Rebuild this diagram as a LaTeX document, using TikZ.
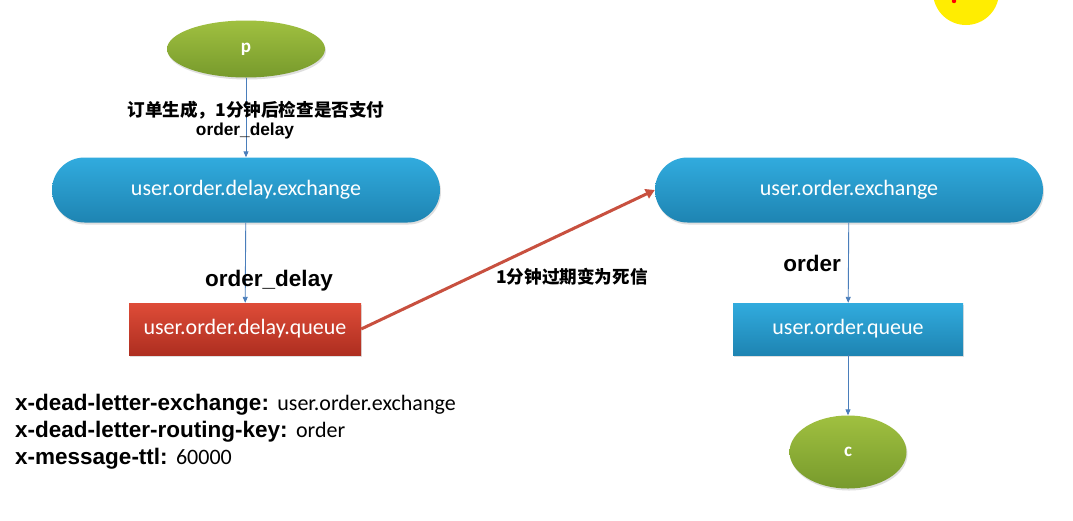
\documentclass[tikz,border=0pt]{standalone}
\usepackage{fontspec}
\setmainfont{Liberation Sans}
\newfontfamily\nodefnt{Carlito}
\newfontfamily\cjkfnt{Noto Sans CJK SC}
\usetikzlibrary{arrows.meta,shapes.geometric,shapes.misc,shadows}
\definecolor{grtop}{HTML}{A0C040}
\definecolor{grbot}{HTML}{779A2C}
\definecolor{bltop}{HTML}{31ABDE}
\definecolor{blbot}{HTML}{1E84B2}
\definecolor{rdtop}{HTML}{DE4C38}
\definecolor{rdbot}{HTML}{AE2E20}
\definecolor{lnblue}{HTML}{4A7EBB}
\definecolor{lnred}{HTML}{C8503F}
\tikzset{
  greenell/.style={ellipse, top color=grtop, bottom color=grbot, draw=none,
    text=white, font=\nodefnt\bfseries\fontsize{19}{22}\selectfont, inner sep=0pt,
    drop shadow={shadow xshift=1pt, shadow yshift=-2pt, opacity=0.25}},
  exch/.style={rounded rectangle, top color=bltop, bottom color=blbot, draw=none,
    text=white, font=\nodefnt\fontsize{22}{26}\selectfont, inner sep=0pt,
    drop shadow={shadow xshift=1pt, shadow yshift=-2pt, opacity=0.25}},
  qbox/.style={rectangle, draw=none, text=white, font=\nodefnt\fontsize{22}{26}\selectfont, inner sep=0pt,
    drop shadow={shadow xshift=1pt, shadow yshift=-2pt, opacity=0.25}},
  flow/.style={draw=lnblue, line width=0.9pt, -{Triangle[length=6pt,width=5pt]}},
  deadflow/.style={draw=lnred, line width=3pt, -{Triangle[length=9pt,width=10pt]}},
  lbl/.style={font=\bfseries\fontsize{22.5}{26}\selectfont, inner sep=0pt},
  cjklbl/.style={font=\cjkfnt\bfseries\fontsize{17.6}{21}\selectfont, inner sep=0pt},
  prop/.style={anchor=west, inner sep=0pt, font=\fontsize{22.5}{26}\selectfont}
}
\begin{document}
\begin{tikzpicture}[x=1pt,y=-1pt]
\useasboundingbox (0,0) rectangle (1073,520);
\fill[white] (0,0) rectangle (1073,520);
% cursor highlight
\fill[yellow!95!orange] (966,-8) circle (33);
\fill[red] (954,1) circle (2.2);

\node[greenell, minimum width=158, minimum height=57] (p) at (246,49) {p};
\node[exch, minimum width=388, minimum height=65] (dx) at (246,190) {user.order.delay.exchange};
\node[qbox, top color=rdtop, bottom color=rdbot, minimum width=232, minimum height=52] (dq) at (245,329) {user.order.delay.queue};
\node[exch, minimum width=388, minimum height=65] (ox) at (849,190) {user.order.exchange};
\node[qbox, top color=bltop, bottom color=blbot, minimum width=230, minimum height=52] (oq) at (848,329) {user.order.queue};
\node[greenell, minimum width=117, minimum height=73] (c) at (848,452) {c};

\draw[flow] (p) -- (dx);
\draw[flow] (dx) -- (dq);
\draw[flow] (ox) -- (oq);
\draw[flow] (oq) -- (c);
\draw[deadflow] (dq.east) -- (ox.west);

\node[cjklbl] (l1) at (256,110) {订单生成，1分钟后检查是否支付};
\node[font=\bfseries\fontsize{17.3}{20}\selectfont, inner sep=0pt] (l2) at (245,131) {order\_delay};
\node[lbl] (l3) at (269,281) {order\_delay};
\node[lbl] (l4) at (812,263) {order};
\node[cjklbl] (l5) at (572,277) {1分钟过期变为死信};

\node[prop] (a1) at (15,405) {\textbf{x-dead-letter-exchange:} {\nodefnt\fontsize{22}{26}\selectfont user.order.exchange}};
\node[prop] (a2) at (15,432) {\textbf{x-dead-letter-routing-key:} {\nodefnt\fontsize{22}{26}\selectfont order}};
\node[prop] (a3) at (15,459) {\textbf{x-message-ttl:} {\nodefnt\fontsize{22}{26}\selectfont 60000}};
\end{tikzpicture}
\end{document}
